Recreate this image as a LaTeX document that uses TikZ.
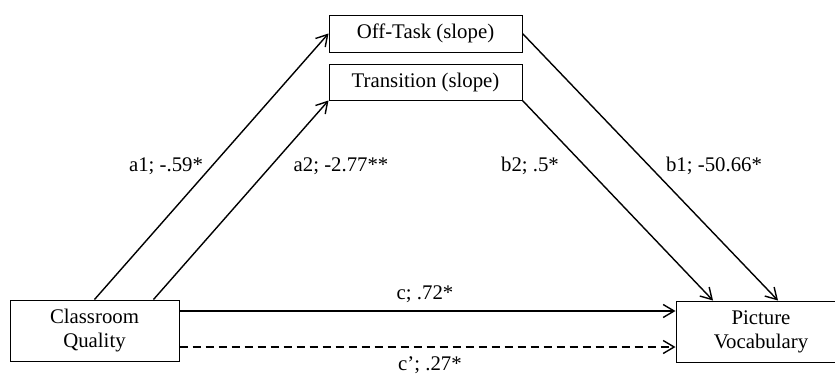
\documentclass[tikz,border=0pt]{standalone}
\usepackage{fontspec}
\setmainfont{Liberation Serif}
\usepackage{tikz}
\usetikzlibrary{arrows.meta}

\tikzset{
    var/.style={draw, line width=1pt, align=center, inner sep=0pt},
    path/.style={line width=1.4pt, -{Straight Barb[length=11pt,width=13pt,line width=1.4pt]}},
    coef/.style={inner sep=0pt}
}

\begin{document}
\begin{tikzpicture}[x=1pt, y=-1pt, font=\fontsize{20.8}{24}\selectfont]
\useasboundingbox (0,0) rectangle (835,375);
\node [var, minimum width=169pt, minimum height=61pt] (CQ) at (94.5,330.5) {Classroom\\Quality};
\node [var, minimum width=170pt, minimum height=61pt] (PV) at (761,331.5) {Picture\\Vocabulary};
\node [var, minimum width=193pt, minimum height=37pt] (OT) at (425.5,33.5) {Off-Task (slope)};
\node [var, minimum width=193pt, minimum height=36pt] (TR) at (425.5,82) {Transition (slope)};
\draw [path] (CQ.north) -- (OT.west);
\draw [path] ([xshift=-26pt]CQ.north east) -- (TR.south west);
\draw [path] (OT.east) -- ([xshift=17pt]PV.north);
\draw [path] (TR.south east) -- ([xshift=-48pt]PV.north);
\draw [path] ([yshift=19.5pt]CQ.east) -- ([yshift=19.5pt]CQ.east -| PV.west);
\draw [path, dash pattern=on 8pt off 5pt] ([yshift=-16.5pt]CQ.east) -- ([yshift=-16.5pt]CQ.east -| PV.west);
\node [coef] (a1) at (166,166) {a1; -.59*};
\node [coef] (a2) at (341,166) {a2; -2.77**};
\node [coef] (b2) at (530,166) {b2; .5*};
\node [coef] (b1) at (714,166) {b1; -50.66*};
\node [coef] (c) at (425,294) {c; .72*};
\node [coef] (cp) at (430,365) {c'; .27*};
\end{tikzpicture}
\end{document}
